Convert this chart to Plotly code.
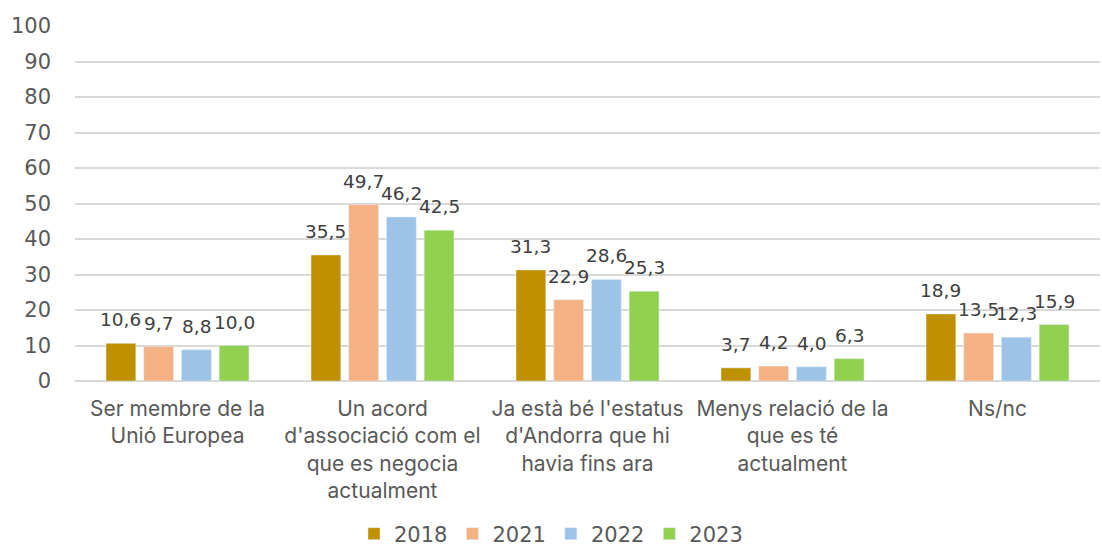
import plotly.graph_objects as go

categories = [
    "Ser membre de la<br>Unió Europea",
    "Un acord<br>d'associació com el<br>que es negocia<br>actualment",
    "Ja està bé l'estatus<br>d'Andorra que hi<br>havia fins ara",
    "Menys relació de la<br>que es té<br>actualment",
    "Ns/nc",
]
years = ["2018", "2021", "2022", "2023"]
values = {
    "2018": [10.6, 35.5, 31.3, 3.7, 18.9],
    "2021": [9.7, 49.7, 22.9, 4.2, 13.5],
    "2022": [8.8, 46.2, 28.6, 4.0, 12.3],
    "2023": [10.0, 42.5, 25.3, 6.3, 15.9],
}
colors = {"2018": "#BF9000", "2021": "#F4B183", "2022": "#9DC3E6", "2023": "#92D050"}

BARGAP = 0.264
NUM_FONT = "DejaVu Sans"

fig = go.Figure()
for y in years:
    fig.add_trace(go.Bar(
        x=categories,
        y=values[y],
        name=y,
        marker_color=colors[y],
    ))

# value labels above each bar (comma decimals)
slot = (1 - BARGAP) / len(years)
annotations = []
for j, y in enumerate(years):
    for i, v in enumerate(values[y]):
        annotations.append(dict(
            x=i + (j - (len(years) - 1) / 2) * slot, y=v, xref="x", yref="y",
            text=f"{v:.1f}".replace(".", ","), showarrow=False,
            yanchor="bottom", yshift=11,
            font=dict(family=NUM_FONT, size=18.5, color="#404040"),
        ))

fig.update_layout(
    width=1102, height=547,
    margin=dict(l=75, r=2, t=26, b=166),
    paper_bgcolor="white", plot_bgcolor="white",
    font=dict(family="Inter", size=21, color="#595959"),
    barmode="group", bargap=BARGAP, bargroupgap=0.21,
    showlegend=True,
    legend=dict(orientation="h", x=0.5, xanchor="center", xref="container",
                y=13 / 547, yanchor="middle", yref="container",
                font=dict(family=NUM_FONT, size=21, color="#595959"),
                itemwidth=30, tracegroupgap=0),
    yaxis=dict(range=[0, 100], dtick=10, showgrid=True, gridcolor="#D9D9D9", gridwidth=1.5,
               zeroline=True, zerolinecolor="#D9D9D9", zerolinewidth=1.5,
               tickfont=dict(family=NUM_FONT, size=21), ticklabelstandoff=23, automargin=False),
    xaxis=dict(showgrid=False, tickfont=dict(size=21), ticklabelstandoff=13, automargin=False),
    annotations=annotations,
)

fig.write_html("out.html", config={"displayModeBar": False},
               post_script="document.body.style.margin='0';")
